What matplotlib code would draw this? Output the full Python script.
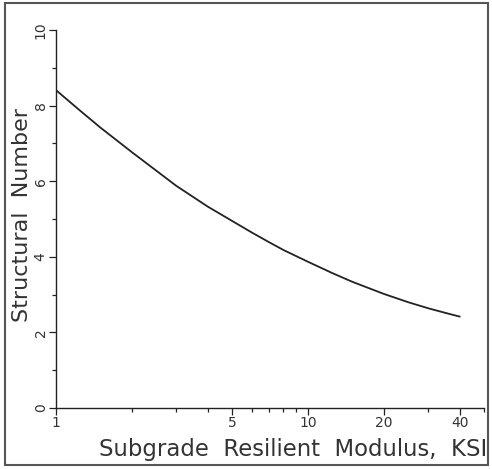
import matplotlib
matplotlib.use("Agg")
import matplotlib.pyplot as plt
from matplotlib.patches import Rectangle
from matplotlib.ticker import FixedLocator, FixedFormatter, NullFormatter

# curve
modulus_ksi = [1, 1.25, 1.5, 2, 2.5, 3, 4, 5, 6, 7, 8, 10, 12.5, 15, 20, 25, 30, 35, 40]
structural_number = [8.41, 7.86, 7.42, 6.77, 6.28, 5.88, 5.33, 4.95, 4.64, 4.39, 4.18,
                     3.87, 3.57, 3.34, 3.02, 2.80, 2.64, 2.52, 2.42]

x_labels = [1, 5, 10, 20, 40]
x_minor = [2, 3, 4, 6, 7, 8, 9, 30, 50]
y_major = [0, 2, 4, 6, 8, 10]
y_minor = [1, 3, 5, 7, 9]

plt.rcParams['font.family'] = ['DejaVu Sans']

fig = plt.figure(figsize=(4.92, 4.69), dpi=100)
ax = fig.add_axes([0.1138, 0.130, 0.8699, 0.806])

ax.plot(modulus_ksi, structural_number, color='#222222', lw=1.3)

ax.set_xscale('log')
ax.set_xlim(1, 50)
ax.set_ylim(0, 10)

ax.xaxis.set_major_locator(FixedLocator(x_labels))
ax.xaxis.set_major_formatter(FixedFormatter([str(v) for v in x_labels]))
ax.xaxis.set_minor_locator(FixedLocator(x_minor))
ax.xaxis.set_minor_formatter(NullFormatter())
ax.yaxis.set_major_locator(FixedLocator(y_major))
ax.yaxis.set_minor_locator(FixedLocator(y_minor))

ax.tick_params(axis='both', which='both', direction='out', colors='#222222',
               labelcolor='#333333', labelsize=10, width=0.9)
ax.tick_params(axis='both', which='major', length=5)
ax.tick_params(axis='both', which='minor', length=3)
ax.tick_params(axis='x', pad=1)
ax.tick_params(axis='y', pad=1)
for lbl in ax.get_yticklabels():
    lbl.set_rotation(90)
    lbl.set_va('center')

for side in ['top', 'right']:
    ax.spines[side].set_visible(False)
for side in ['left', 'bottom']:
    ax.spines[side].set_linewidth(1.0)
    ax.spines[side].set_color('#222222')

ax.set_xlabel('Subgrade  Resilient  Modulus,  KSI', fontsize=16.4, color='#333333',
              loc='right')
ax.xaxis.set_label_coords(1.007, -0.08)
ax.set_ylabel('Structural  Number', fontsize=16, color='#333333')
ax.yaxis.set_label_coords(-0.056, 0.51)

# gray frame around the whole picture
fig.patches.append(Rectangle((5 / 492, 4 / 469), 483 / 492, 462 / 469,
                             transform=fig.transFigure, fill=False,
                             edgecolor='#555555', lw=1.5))

fig.savefig('out.png', dpi=100)
